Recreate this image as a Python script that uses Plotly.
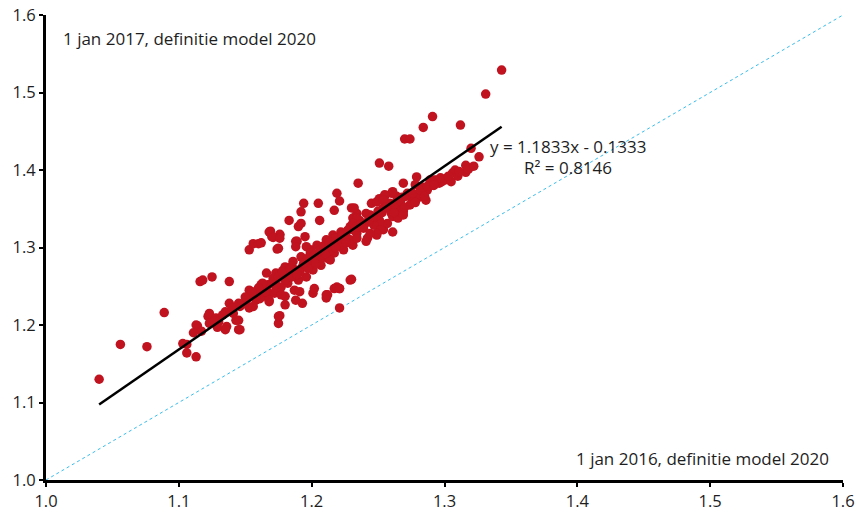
import plotly.graph_objects as go

# Index per region: 1 jan 2016 (x) vs 1 jan 2017 (y), both under the 2020 model definition
x_2016 = [
    1.040, 1.056, 1.076, 1.089, 1.106, 1.106, 1.113, 1.114, 1.103,
    1.116, 1.118, 1.125, 1.138, 1.153, 1.156, 1.160, 1.169, 1.170, 1.174, 1.176,
    1.183, 1.188, 1.190, 1.192, 1.192, 1.194, 1.195, 1.205, 1.206, 1.217, 1.219,
    1.221, 1.235, 1.230, 1.245, 1.251, 1.255, 1.260, 1.264, 1.251, 1.254, 1.260,
    1.264, 1.229, 1.217, 1.221, 1.211, 1.211, 1.193, 1.176, 1.175, 1.145, 1.113,
    1.122, 1.123, 1.130, 1.136, 1.138, 1.135, 1.141, 1.145, 1.146, 1.150, 1.153,
    1.155, 1.158, 1.161, 1.165, 1.166, 1.168, 1.170, 1.172, 1.173, 1.177, 1.177,
    1.180, 1.180, 1.182, 1.183, 1.186, 1.187, 1.188, 1.190, 1.192, 1.193, 1.196,
    1.199, 1.200, 1.201, 1.204, 1.205, 1.207, 1.208, 1.211, 1.212, 1.215, 1.216,
    1.217, 1.220, 1.222, 1.224, 1.226, 1.229, 1.231, 1.234, 1.236, 1.239, 1.242,
    1.244, 1.247, 1.249, 1.254, 1.257, 1.259, 1.261, 1.265,
    1.123, 1.128, 1.129, 1.135, 1.146, 1.143, 1.147, 1.151, 1.153, 1.156, 1.158,
    1.162, 1.163, 1.166, 1.167, 1.168, 1.171, 1.173, 1.175, 1.161,
    1.168, 1.176, 1.171, 1.176, 1.162, 1.175, 1.189, 1.188, 1.196, 1.229, 1.231,
    1.234, 1.239, 1.230, 1.219, 1.221, 1.212, 1.201, 1.202, 1.191, 1.188, 1.180,
    1.177, 1.166, 1.163, 1.221,
    1.270, 1.274, 1.251, 1.258, 1.279, 1.269, 1.287, 1.261, 1.277, 1.276, 1.292,
    1.296, 1.300, 1.255, 1.249, 1.254, 1.232, 1.241, 1.266, 1.269, 1.261, 1.265,
    1.251, 1.247, 1.252, 1.249, 1.234, 1.231, 1.239, 1.241, 1.234, 1.244,
    1.343, 1.331, 1.291, 1.312, 1.326, 1.316, 1.316, 1.308, 1.306, 1.301, 1.305,
    1.298, 1.294, 1.289, 1.284,
    1.191, 1.198, 1.206, 1.180, 1.173, 1.165, 1.158, 1.214, 1.221, 1.225,
    1.268, 1.269, 1.274, 1.281, 1.286, 1.278, 1.195, 1.209, 1.214, 1.185,
    1.197, 1.203, 1.210, 1.218, 1.226, 1.232, 1.238, 1.243, 1.248, 1.253,
    1.258, 1.263, 1.272, 1.283, 1.290, 1.320, 1.310, 1.185, 1.178, 1.199,
    1.175, 1.178, 1.184, 1.189, 1.194, 1.197, 1.202, 1.206, 1.209, 1.213,
    1.218, 1.223, 1.227, 1.233, 1.237, 1.243, 1.246, 1.250, 1.256, 1.262,
    1.267, 1.271, 1.276, 1.282, 1.287, 1.292, 1.297, 1.303, 1.311, 1.318,
    1.322, 1.262, 1.270, 1.278, 1.285, 1.160, 1.155, 1.150, 1.145, 1.140,
    1.133, 1.127, 1.117, 1.111,
]
y_2017 = [
    1.130, 1.175, 1.172, 1.216, 1.175, 1.164, 1.159, 1.199, 1.176,
    1.256, 1.258, 1.262, 1.256, 1.297, 1.305, 1.305, 1.321, 1.314, 1.298, 1.316,
    1.335, 1.308, 1.327, 1.331, 1.346, 1.357, 1.314, 1.357, 1.335, 1.348, 1.370,
    1.360, 1.383, 1.351, 1.357, 1.363, 1.366, 1.370, 1.366, 1.335, 1.323, 1.344,
    1.340, 1.258, 1.247, 1.247, 1.239, 1.235, 1.228, 1.212, 1.202, 1.194, 1.200,
    1.211, 1.202, 1.204, 1.198, 1.228, 1.217, 1.215, 1.206, 1.224, 1.230, 1.222,
    1.237, 1.232, 1.243, 1.249, 1.237, 1.230, 1.254, 1.241, 1.267, 1.249, 1.262,
    1.275, 1.237, 1.254, 1.267, 1.282, 1.245, 1.271, 1.258, 1.288, 1.275, 1.262,
    1.297, 1.282, 1.271, 1.303, 1.288, 1.277, 1.297, 1.310, 1.286, 1.303, 1.316,
    1.293, 1.308, 1.320, 1.297, 1.314, 1.327, 1.303, 1.318, 1.335, 1.325, 1.312,
    1.342, 1.329, 1.316, 1.351, 1.331, 1.357, 1.320, 1.348,
    1.215, 1.209, 1.197, 1.194, 1.194, 1.206, 1.226, 1.232, 1.245, 1.224, 1.237,
    1.252, 1.243, 1.267, 1.252, 1.232, 1.260, 1.245, 1.211, 1.234,
    1.320, 1.317, 1.313, 1.312, 1.306, 1.299, 1.308, 1.301, 1.301, 1.310, 1.338,
    1.344, 1.331, 1.259, 1.249, 1.247, 1.239, 1.241, 1.247, 1.243, 1.232, 1.226,
    1.239, 1.245, 1.254, 1.222,
    1.440, 1.440, 1.409, 1.405, 1.391, 1.383, 1.374, 1.372, 1.363, 1.360, 1.387,
    1.383, 1.387, 1.368, 1.359, 1.361, 1.351, 1.344, 1.351, 1.346, 1.340, 1.338,
    1.333, 1.329, 1.323, 1.318, 1.338, 1.331, 1.327, 1.308, 1.312, 1.318,
    1.529, 1.498, 1.469, 1.458, 1.417, 1.406, 1.397, 1.400, 1.396, 1.389, 1.385,
    1.385, 1.387, 1.387, 1.455,
    1.268, 1.277, 1.281, 1.258, 1.252, 1.243, 1.237, 1.297, 1.303, 1.310,
    1.365, 1.342, 1.355, 1.365, 1.361, 1.381, 1.279, 1.290, 1.284, 1.262,
    1.273, 1.279, 1.292, 1.300, 1.306, 1.322, 1.326, 1.333, 1.340, 1.345,
    1.350, 1.356, 1.370, 1.378, 1.380, 1.428, 1.392, 1.276, 1.270, 1.293,
    1.262, 1.268, 1.272, 1.265, 1.280, 1.286, 1.290, 1.296, 1.302, 1.306,
    1.312, 1.316, 1.322, 1.326, 1.330, 1.336, 1.340, 1.347, 1.352, 1.356,
    1.360, 1.366, 1.370, 1.374, 1.379, 1.380, 1.390, 1.392, 1.398, 1.401,
    1.405, 1.345, 1.352, 1.358, 1.366, 1.248, 1.243, 1.236, 1.228, 1.222,
    1.213, 1.205, 1.192, 1.190,
]

# Least-squares fit as reported on the chart
fit_slope = 1.1833
fit_intercept = -0.1333
fit_r2 = 0.8146

axis_range = [1.0, 1.6]
tick_values = [1.0, 1.1, 1.2, 1.3, 1.4, 1.5, 1.6]
tick_labels = ["1.0", "1.1", "1.2", "1.3", "1.4", "1.5", "1.6"]

label_y = "1 jan 2017, definitie model 2020"
label_x = "1 jan 2016, definitie model 2020"

FONT = "Open Sans, Noto Sans, sans-serif"
TEXT = "#1e1e1e"
RED = "#c0121f"

fig = go.Figure()

# 45-degree reference line
fig.add_trace(go.Scatter(
    x=axis_range, y=axis_range, mode="lines",
    line=dict(color="#35bdf0", width=1, dash="dot"),
    hoverinfo="skip", showlegend=False,
))

fig.add_trace(go.Scatter(
    x=x_2016, y=y_2017, mode="markers",
    marker=dict(color=RED, size=9.5, line=dict(width=0)),
    showlegend=False, cliponaxis=False,
))

x_lo, x_hi = min(x_2016), max(x_2016)
fig.add_trace(go.Scatter(
    x=[x_lo, x_hi],
    y=[fit_slope * x_lo + fit_intercept, fit_slope * x_hi + fit_intercept],
    mode="lines", line=dict(color="black", width=2.5),
    hoverinfo="skip", showlegend=False,
))

axis_common = dict(
    range=axis_range, tickvals=tick_values, ticktext=tick_labels,
    showgrid=False, zeroline=False, automargin=False,
    showline=True, linecolor="black", linewidth=3,
    ticks="outside", ticklen=4, tickwidth=2, tickcolor="black",
    tickfont=dict(family=FONT, size=16.5, color=TEXT),
)

ann_font = dict(family=FONT, size=17, color=TEXT)

fig.update_layout(
    width=857, height=512,
    margin=dict(l=46, r=14, t=15, b=32, autoexpand=False),
    paper_bgcolor="white", plot_bgcolor="white",
    xaxis=dict(**axis_common),
    yaxis=dict(**axis_common),
    font=dict(family=FONT, size=16, color=TEXT),
    annotations=[
        dict(x=1.011, y=1.570, xref="x", yref="y", text=label_y,
             showarrow=False, xanchor="left", yanchor="middle", font=ann_font),
        dict(x=1.591, y=1.028, xref="x", yref="y", text=label_x,
             showarrow=False, xanchor="right", yanchor="middle", font=ann_font),
        dict(x=1.393, y=1.430, xref="x", yref="y",
             text=f"y = {fit_slope:.4f}x - {abs(fit_intercept):.4f}",
             showarrow=False, xanchor="center", yanchor="middle", font=ann_font),
        dict(x=1.393, y=1.403, xref="x", yref="y",
             text=f"R² = {fit_r2:.4f}",
             showarrow=False, xanchor="center", yanchor="middle", font=ann_font),
    ],
)

fig.write_html("out.html")
